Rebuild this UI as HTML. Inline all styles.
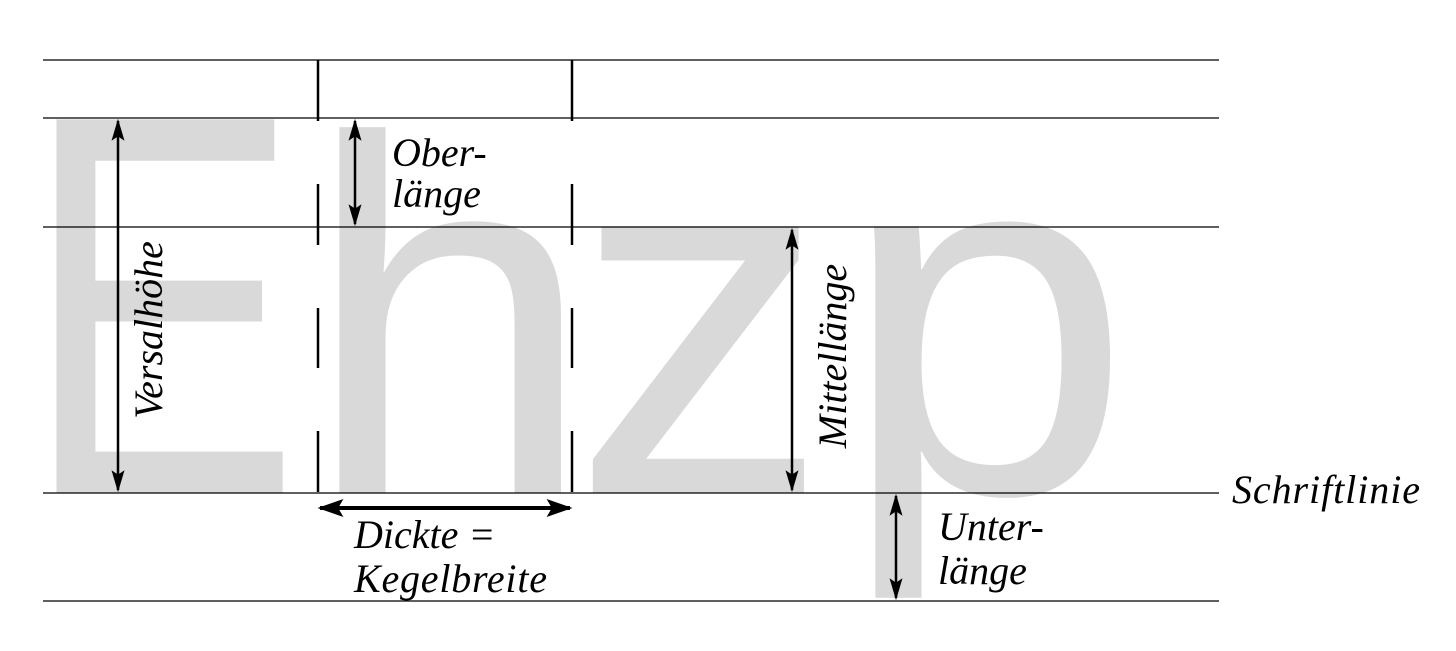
<!DOCTYPE html>
<html><head><meta charset="utf-8"><style>html,body{margin:0;padding:0;background:#fff}svg{display:block}</style></head>
<body>
<svg width="1456" height="651" viewBox="0 0 1456 651" xmlns="http://www.w3.org/2000/svg">
<defs>
<marker id="a" viewBox="0 0 10 10" refX="9" refY="5" markerWidth="22" markerHeight="13" orient="auto-start-reverse" markerUnits="userSpaceOnUse" preserveAspectRatio="none">
<path d="M0,0 L10,5 L0,10 L2,5 z" fill="#000"/></marker>
<marker id="b" viewBox="0 0 10 10" refX="9" refY="5" markerWidth="26" markerHeight="18" orient="auto-start-reverse" markerUnits="userSpaceOnUse" preserveAspectRatio="none">
<path d="M0,0 L10,5 L0,10 L2,5 z" fill="#000"/></marker>
</defs>
<g font-family="Liberation Sans, sans-serif" font-size="535" fill="#d9d9d9">
<text transform="translate(55,493) scale(0.78,1.015) translate(-42,0)" x="0" y="0">E</text>
</g>
<g font-family="Liberation Sans, sans-serif" font-size="505" fill="#d9d9d9">
<text transform="translate(303,493) scale(1.04,1)">h</text>
<text transform="translate(572,493) scale(1.02,1)">z</text>
<text transform="translate(840,493) scale(1.04,1)">p</text>
</g>
<g stroke="#000" stroke-width="1.3">
<line x1="43" y1="60" x2="1219" y2="60"/>
<line x1="43" y1="118" x2="1219" y2="118"/>
<line x1="43" y1="227" x2="1219" y2="227"/>
<line x1="43" y1="493" x2="1219" y2="493"/>
<line x1="43" y1="601" x2="1219" y2="601"/>
</g>
<g stroke="#000" stroke-width="2.5">
<line x1="318" y1="60" x2="318" y2="121"/>
<line x1="572" y1="60" x2="572" y2="121"/>
<line x1="318" y1="184" x2="318" y2="245"/>
<line x1="572" y1="184" x2="572" y2="245"/>
<line x1="318" y1="308" x2="318" y2="368"/>
<line x1="572" y1="308" x2="572" y2="368"/>
<line x1="318" y1="431" x2="318" y2="492"/>
<line x1="572" y1="431" x2="572" y2="492"/>
</g>
<g stroke="#000" stroke-width="2.5" fill="none">
<line x1="118" y1="121" x2="118" y2="490" marker-start="url(#a)" marker-end="url(#a)"/>
<line x1="355" y1="121" x2="355" y2="224" marker-start="url(#a)" marker-end="url(#a)"/>
<line x1="792" y1="230" x2="792" y2="490" marker-start="url(#a)" marker-end="url(#a)"/>
<line x1="896" y1="496" x2="896" y2="598" marker-start="url(#a)" marker-end="url(#a)"/>
<line x1="320" y1="508" x2="570" y2="508" stroke-width="4" marker-start="url(#b)" marker-end="url(#b)"/>
</g>
<g font-family="Liberation Serif, serif" font-style="italic" font-size="40" fill="#000">
<text x="392" y="166">Ober-</text>
<text x="392" y="207">länge</text>
<text x="354" y="548">Dickte =</text>
<text x="354" y="592" textLength="193">Kegelbreite</text>
<text x="1232" y="503" textLength="188">Schriftlinie</text>
<text x="938" y="540">Unter-</text>
<text x="938" y="584">länge</text>
<text transform="translate(162,330) rotate(-90)" text-anchor="middle">Versalhöhe</text>
<text transform="translate(846,356) rotate(-90)" text-anchor="middle">Mittellänge</text>
</g>
</svg>
</body></html>
